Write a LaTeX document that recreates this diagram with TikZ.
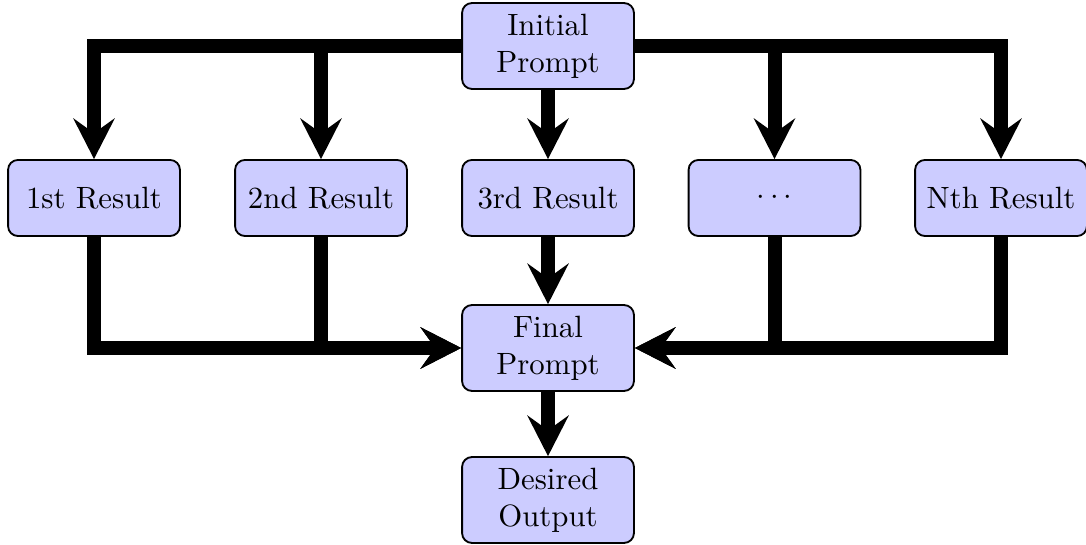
\documentclass[tikz,border=0pt]{standalone}
\usetikzlibrary{arrows.meta}
\begin{document}
\begin{tikzpicture}[x=0.3247pt, y=-0.3247pt,
  box/.style={draw, semithick, fill=blue!20, rounded corners=3.2pt,
    minimum width=55.8pt, minimum height=24.7pt, align=center, inner sep=2pt},
  tallbox/.style={box, minimum height=27.9pt},
  flow/.style={line width=4.55pt,
    -{Stealth[length=13.3pt, width=13.6pt, inset=4.9pt, line width=0pt]}}]
\useasboundingbox (0,0) rectangle (1086,545);

% prompt stages
\node[tallbox] (init)  at (548,46)  {Initial\\Prompt};
\node[tallbox] (final) at (548,348) {Final\\Prompt};
\node[tallbox] (out)   at (548,500) {Desired\\Output};

% individual results
\node[box] (r1) at (94,198)    {1st Result};
\node[box] (r2) at (321,198)   {2nd Result};
\node[box] (r3) at (548,198)   {3rd Result};
\node[box] (r4) at (774.5,198) {$\cdots$};
\node[box] (r5) at (1001,198)  {Nth Result};

% fan out from the initial prompt
\draw[flow] (init.west) -| (r1.north);
\draw[flow] (init.west) -| (r2.north);
\draw[flow] (init.south) -- (r3.north);
\draw[flow] (init.east) -| (r4.north);
\draw[flow] (init.east) -| (r5.north);

% gather into the final prompt
\draw[flow] (r1.south) |- (final.west);
\draw[flow] (r2.south) |- (final.west);
\draw[flow] (r3.south) -- (final.north);
\draw[flow] (r4.south) |- (final.east);
\draw[flow] (r5.south) |- (final.east);

\draw[flow] (final.south) -- (out.north);
\end{tikzpicture}
\end{document}
